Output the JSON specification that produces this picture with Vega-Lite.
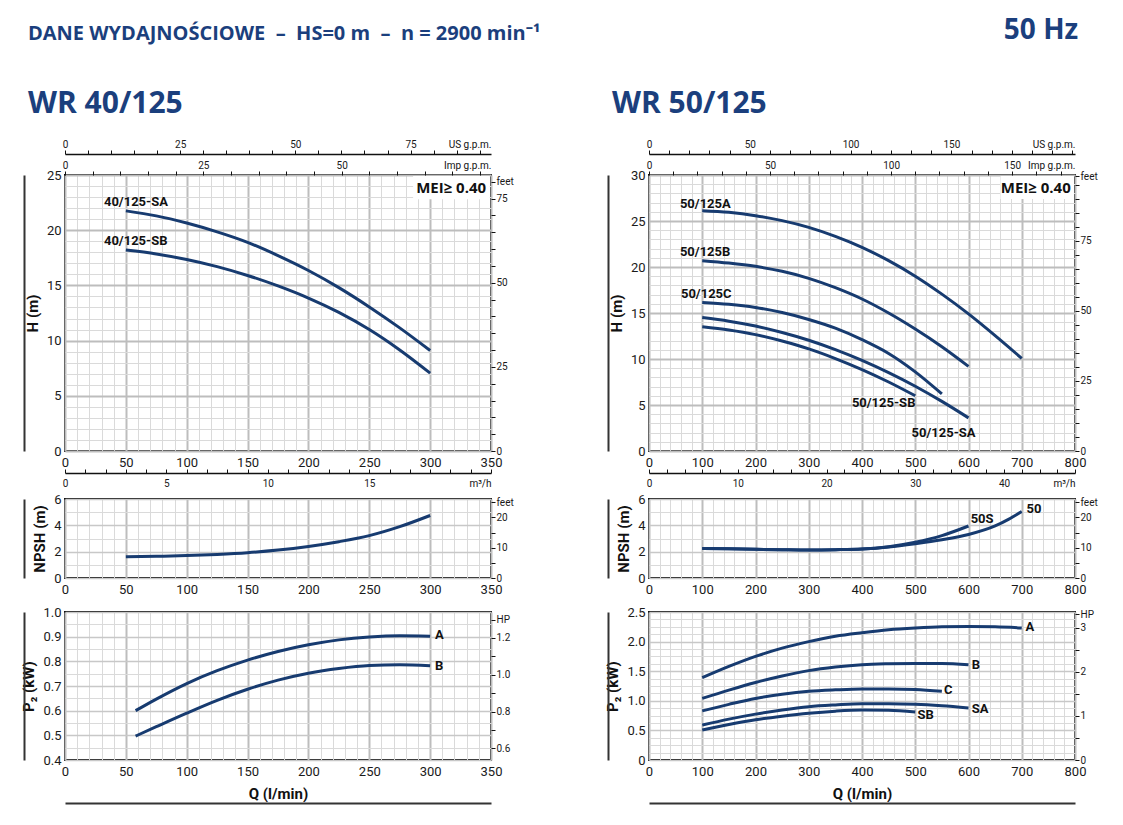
{
  "$schema": "https://vega.github.io/schema/vega-lite/v6.json",
  "autosize": {"type": "pad"},
  "padding": {"left": 20, "top": 17, "right": 5, "bottom": 5},
  "config": {
    "font": "Roboto, sans-serif",
    "view": {"stroke": "#111111", "strokeWidth": 2},
    "axis": {
      "labelFont": "Roboto, sans-serif",
      "titleFont": "Roboto, sans-serif",
      "labelColor": "#1a1a1a",
      "titleColor": "#111111",
      "labelFontSize": 13,
      "titleFontSize": 15,
      "titleFontWeight": "bold",
      "labelOverlap": false,
      "labelFlush": false,
      "labelBound": false,
      "domainColor": "#111111",
      "tickColor": "#111111",
      "grid": false
    },
    "text": {"font": "Roboto, sans-serif"},
    "title": {"font": "Open Sans", "fontWeight": "bold", "color": "#1b3f7d", "anchor": "start", "frame": "bounds"}
  },
  "title": {"text": "50 Hz", "anchor": "end", "fontSize": 28, "offset": -22, "dx": -20},
  "datasets": {
    "curves": [
      {"c": "H40", "s": "SA", "q": 50, "v": 21.75}, {"c": "H40", "s": "SA", "q": 75, "v": 21.3}, {"c": "H40", "s": "SA", "q": 100, "v": 20.65}, {"c": "H40", "s": "SA", "q": 125, "v": 19.85}, {"c": "H40", "s": "SA", "q": 150, "v": 18.9}, {"c": "H40", "s": "SA", "q": 175, "v": 17.7}, {"c": "H40", "s": "SA", "q": 200, "v": 16.35}, {"c": "H40", "s": "SA", "q": 225, "v": 14.8}, {"c": "H40", "s": "SA", "q": 250, "v": 13.05}, {"c": "H40", "s": "SA", "q": 275, "v": 11.15}, {"c": "H40", "s": "SA", "q": 300, "v": 9.1},
      {"c": "H40", "s": "SB", "q": 50, "v": 18.2}, {"c": "H40", "s": "SB", "q": 75, "v": 17.85}, {"c": "H40", "s": "SB", "q": 100, "v": 17.35}, {"c": "H40", "s": "SB", "q": 125, "v": 16.7}, {"c": "H40", "s": "SB", "q": 150, "v": 15.9}, {"c": "H40", "s": "SB", "q": 175, "v": 14.95}, {"c": "H40", "s": "SB", "q": 200, "v": 13.85}, {"c": "H40", "s": "SB", "q": 225, "v": 12.55}, {"c": "H40", "s": "SB", "q": 250, "v": 11.0}, {"c": "H40", "s": "SB", "q": 275, "v": 9.15}, {"c": "H40", "s": "SB", "q": 300, "v": 7.05},
      {"c": "N40", "s": "N", "q": 50, "v": 1.62}, {"c": "N40", "s": "N", "q": 75, "v": 1.65}, {"c": "N40", "s": "N", "q": 100, "v": 1.7}, {"c": "N40", "s": "N", "q": 125, "v": 1.79}, {"c": "N40", "s": "N", "q": 150, "v": 1.92}, {"c": "N40", "s": "N", "q": 175, "v": 2.12}, {"c": "N40", "s": "N", "q": 200, "v": 2.4}, {"c": "N40", "s": "N", "q": 225, "v": 2.76}, {"c": "N40", "s": "N", "q": 250, "v": 3.22}, {"c": "N40", "s": "N", "q": 275, "v": 3.9}, {"c": "N40", "s": "N", "q": 300, "v": 4.75},
      {"c": "P40", "s": "A", "q": 58, "v": 0.6}, {"c": "P40", "s": "A", "q": 75, "v": 0.647}, {"c": "P40", "s": "A", "q": 100, "v": 0.71}, {"c": "P40", "s": "A", "q": 125, "v": 0.762}, {"c": "P40", "s": "A", "q": 150, "v": 0.805}, {"c": "P40", "s": "A", "q": 175, "v": 0.84}, {"c": "P40", "s": "A", "q": 200, "v": 0.867}, {"c": "P40", "s": "A", "q": 225, "v": 0.887}, {"c": "P40", "s": "A", "q": 250, "v": 0.899}, {"c": "P40", "s": "A", "q": 275, "v": 0.904}, {"c": "P40", "s": "A", "q": 300, "v": 0.902},
      {"c": "P40", "s": "B", "q": 58, "v": 0.497}, {"c": "P40", "s": "B", "q": 75, "v": 0.535}, {"c": "P40", "s": "B", "q": 100, "v": 0.59}, {"c": "P40", "s": "B", "q": 125, "v": 0.642}, {"c": "P40", "s": "B", "q": 150, "v": 0.687}, {"c": "P40", "s": "B", "q": 175, "v": 0.724}, {"c": "P40", "s": "B", "q": 200, "v": 0.752}, {"c": "P40", "s": "B", "q": 225, "v": 0.771}, {"c": "P40", "s": "B", "q": 250, "v": 0.783}, {"c": "P40", "s": "B", "q": 275, "v": 0.786}, {"c": "P40", "s": "B", "q": 300, "v": 0.782},
      {"c": "H50", "s": "A", "q": 100, "v": 26.12}, {"c": "H50", "s": "A", "q": 150, "v": 25.94}, {"c": "H50", "s": "A", "q": 200, "v": 25.58}, {"c": "H50", "s": "A", "q": 250, "v": 25.04}, {"c": "H50", "s": "A", "q": 300, "v": 24.31}, {"c": "H50", "s": "A", "q": 350, "v": 23.33}, {"c": "H50", "s": "A", "q": 400, "v": 22.14}, {"c": "H50", "s": "A", "q": 450, "v": 20.69}, {"c": "H50", "s": "A", "q": 500, "v": 19.0}, {"c": "H50", "s": "A", "q": 550, "v": 17.05}, {"c": "H50", "s": "A", "q": 600, "v": 14.9}, {"c": "H50", "s": "A", "q": 650, "v": 12.54}, {"c": "H50", "s": "A", "q": 700, "v": 10.07},
      {"c": "H50", "s": "B", "q": 100, "v": 20.69}, {"c": "H50", "s": "B", "q": 150, "v": 20.43}, {"c": "H50", "s": "B", "q": 200, "v": 20.07}, {"c": "H50", "s": "B", "q": 250, "v": 19.53}, {"c": "H50", "s": "B", "q": 300, "v": 18.77}, {"c": "H50", "s": "B", "q": 350, "v": 17.75}, {"c": "H50", "s": "B", "q": 400, "v": 16.52}, {"c": "H50", "s": "B", "q": 450, "v": 15.0}, {"c": "H50", "s": "B", "q": 500, "v": 13.26}, {"c": "H50", "s": "B", "q": 550, "v": 11.34}, {"c": "H50", "s": "B", "q": 600, "v": 9.2},
      {"c": "H50", "s": "C", "q": 100, "v": 16.15}, {"c": "H50", "s": "C", "q": 150, "v": 15.95}, {"c": "H50", "s": "C", "q": 200, "v": 15.6}, {"c": "H50", "s": "C", "q": 250, "v": 15.05}, {"c": "H50", "s": "C", "q": 300, "v": 14.3}, {"c": "H50", "s": "C", "q": 350, "v": 13.35}, {"c": "H50", "s": "C", "q": 400, "v": 12.1}, {"c": "H50", "s": "C", "q": 450, "v": 10.6}, {"c": "H50", "s": "C", "q": 500, "v": 8.6}, {"c": "H50", "s": "C", "q": 550, "v": 6.2},
      {"c": "H50", "s": "SA", "q": 100, "v": 14.5}, {"c": "H50", "s": "SA", "q": 150, "v": 14.11}, {"c": "H50", "s": "SA", "q": 200, "v": 13.58}, {"c": "H50", "s": "SA", "q": 250, "v": 12.88}, {"c": "H50", "s": "SA", "q": 300, "v": 12.04}, {"c": "H50", "s": "SA", "q": 350, "v": 11.02}, {"c": "H50", "s": "SA", "q": 400, "v": 9.85}, {"c": "H50", "s": "SA", "q": 450, "v": 8.52}, {"c": "H50", "s": "SA", "q": 500, "v": 7.04}, {"c": "H50", "s": "SA", "q": 550, "v": 5.39}, {"c": "H50", "s": "SA", "q": 600, "v": 3.6},
      {"c": "H50", "s": "SB", "q": 100, "v": 13.5}, {"c": "H50", "s": "SB", "q": 150, "v": 13.15}, {"c": "H50", "s": "SB", "q": 200, "v": 12.65}, {"c": "H50", "s": "SB", "q": 250, "v": 11.95}, {"c": "H50", "s": "SB", "q": 300, "v": 11.1}, {"c": "H50", "s": "SB", "q": 350, "v": 10.05}, {"c": "H50", "s": "SB", "q": 400, "v": 8.85}, {"c": "H50", "s": "SB", "q": 450, "v": 7.5}, {"c": "H50", "s": "SB", "q": 500, "v": 6.0},
      {"c": "N50", "s": "50", "q": 100, "v": 2.25}, {"c": "N50", "s": "50", "q": 150, "v": 2.22}, {"c": "N50", "s": "50", "q": 200, "v": 2.18}, {"c": "N50", "s": "50", "q": 250, "v": 2.15}, {"c": "N50", "s": "50", "q": 300, "v": 2.13}, {"c": "N50", "s": "50", "q": 350, "v": 2.15}, {"c": "N50", "s": "50", "q": 400, "v": 2.2}, {"c": "N50", "s": "50", "q": 450, "v": 2.35}, {"c": "N50", "s": "50", "q": 500, "v": 2.6}, {"c": "N50", "s": "50", "q": 550, "v": 2.9}, {"c": "N50", "s": "50", "q": 600, "v": 3.3}, {"c": "N50", "s": "50", "q": 650, "v": 3.95}, {"c": "N50", "s": "50", "q": 675, "v": 4.45}, {"c": "N50", "s": "50", "q": 700, "v": 5.05},
      {"c": "N50", "s": "50S", "q": 100, "v": 2.25}, {"c": "N50", "s": "50S", "q": 150, "v": 2.22}, {"c": "N50", "s": "50S", "q": 200, "v": 2.18}, {"c": "N50", "s": "50S", "q": 250, "v": 2.15}, {"c": "N50", "s": "50S", "q": 300, "v": 2.13}, {"c": "N50", "s": "50S", "q": 350, "v": 2.15}, {"c": "N50", "s": "50S", "q": 400, "v": 2.2}, {"c": "N50", "s": "50S", "q": 450, "v": 2.38}, {"c": "N50", "s": "50S", "q": 500, "v": 2.72}, {"c": "N50", "s": "50S", "q": 550, "v": 3.22}, {"c": "N50", "s": "50S", "q": 600, "v": 3.95},
      {"c": "P50", "s": "A", "q": 100, "v": 1.39}, {"c": "P50", "s": "A", "q": 150, "v": 1.58}, {"c": "P50", "s": "A", "q": 200, "v": 1.75}, {"c": "P50", "s": "A", "q": 250, "v": 1.89}, {"c": "P50", "s": "A", "q": 300, "v": 2.0}, {"c": "P50", "s": "A", "q": 350, "v": 2.09}, {"c": "P50", "s": "A", "q": 400, "v": 2.15}, {"c": "P50", "s": "A", "q": 450, "v": 2.2}, {"c": "P50", "s": "A", "q": 500, "v": 2.23}, {"c": "P50", "s": "A", "q": 550, "v": 2.25}, {"c": "P50", "s": "A", "q": 600, "v": 2.255}, {"c": "P50", "s": "A", "q": 650, "v": 2.25}, {"c": "P50", "s": "A", "q": 700, "v": 2.23},
      {"c": "P50", "s": "B", "q": 100, "v": 1.04}, {"c": "P50", "s": "B", "q": 150, "v": 1.18}, {"c": "P50", "s": "B", "q": 200, "v": 1.31}, {"c": "P50", "s": "B", "q": 250, "v": 1.42}, {"c": "P50", "s": "B", "q": 300, "v": 1.51}, {"c": "P50", "s": "B", "q": 350, "v": 1.57}, {"c": "P50", "s": "B", "q": 400, "v": 1.61}, {"c": "P50", "s": "B", "q": 450, "v": 1.625}, {"c": "P50", "s": "B", "q": 500, "v": 1.63}, {"c": "P50", "s": "B", "q": 550, "v": 1.63}, {"c": "P50", "s": "B", "q": 600, "v": 1.61},
      {"c": "P50", "s": "C", "q": 100, "v": 0.83}, {"c": "P50", "s": "C", "q": 150, "v": 0.94}, {"c": "P50", "s": "C", "q": 200, "v": 1.04}, {"c": "P50", "s": "C", "q": 250, "v": 1.11}, {"c": "P50", "s": "C", "q": 300, "v": 1.16}, {"c": "P50", "s": "C", "q": 350, "v": 1.185}, {"c": "P50", "s": "C", "q": 400, "v": 1.2}, {"c": "P50", "s": "C", "q": 450, "v": 1.2}, {"c": "P50", "s": "C", "q": 500, "v": 1.19}, {"c": "P50", "s": "C", "q": 550, "v": 1.16},
      {"c": "P50", "s": "SA", "q": 100, "v": 0.59}, {"c": "P50", "s": "SA", "q": 150, "v": 0.69}, {"c": "P50", "s": "SA", "q": 200, "v": 0.775}, {"c": "P50", "s": "SA", "q": 250, "v": 0.845}, {"c": "P50", "s": "SA", "q": 300, "v": 0.9}, {"c": "P50", "s": "SA", "q": 350, "v": 0.93}, {"c": "P50", "s": "SA", "q": 400, "v": 0.95}, {"c": "P50", "s": "SA", "q": 450, "v": 0.95}, {"c": "P50", "s": "SA", "q": 500, "v": 0.94}, {"c": "P50", "s": "SA", "q": 550, "v": 0.915}, {"c": "P50", "s": "SA", "q": 600, "v": 0.88},
      {"c": "P50", "s": "SB", "q": 100, "v": 0.506}, {"c": "P50", "s": "SB", "q": 150, "v": 0.6}, {"c": "P50", "s": "SB", "q": 200, "v": 0.68}, {"c": "P50", "s": "SB", "q": 250, "v": 0.74}, {"c": "P50", "s": "SB", "q": 300, "v": 0.79}, {"c": "P50", "s": "SB", "q": 350, "v": 0.825}, {"c": "P50", "s": "SB", "q": 400, "v": 0.843}, {"c": "P50", "s": "SB", "q": 450, "v": 0.84}, {"c": "P50", "s": "SB", "q": 500, "v": 0.81}
    ],
    "labels": [
      {"c": "H40", "t": "40/125-SA", "q": 32, "v": 22.55},
      {"c": "H40", "t": "40/125-SB", "q": 32, "v": 19.05},
      {"c": "P40", "t": "A", "q": 304, "v": 0.905},
      {"c": "P40", "t": "B", "q": 304, "v": 0.781},
      {"c": "H50", "t": "50/125A", "q": 58, "v": 26.9},
      {"c": "H50", "t": "50/125B", "q": 58, "v": 21.6},
      {"c": "H50", "t": "50/125C", "q": 60, "v": 17.1},
      {"c": "H50", "t": "50/125-SB", "q": 381, "v": 5.2},
      {"c": "H50", "t": "50/125-SA", "q": 493, "v": 2.0},
      {"c": "N50", "t": "50S", "q": 604, "v": 4.5},
      {"c": "N50", "t": "50", "q": 709, "v": 5.24},
      {"c": "P50", "t": "A", "q": 707, "v": 2.24},
      {"c": "P50", "t": "B", "q": 606, "v": 1.607},
      {"c": "P50", "t": "C", "q": 554, "v": 1.185},
      {"c": "P50", "t": "SA", "q": 606, "v": 0.86},
      {"c": "P50", "t": "SB", "q": 504, "v": 0.764}
    ]
  },
  "columns": 2,
  "align": "each",
  "spacing": {"row": 3, "column": 62},
  "concat": [
    {
      "title": {"text": "DANE WYDAJNOŚCIOWE\u00a0\u00a0–\u00a0\u00a0HS=0 m\u00a0\u00a0–\u00a0\u00a0n = 2900 min⁻¹", "subtitle": "WR 40/125", "fontSize": 20,
        "subtitleFont": "Open Sans", "subtitleFontSize": 30, "subtitleFontWeight": "bold", "subtitleColor": "#1b3f7d",
        "subtitlePadding": 45, "offset": 20, "dx": 4},
      "width": 426,
      "height": 276,
      "resolve": {"scale": {"x": "independent", "y": "independent"}},
      "layer": [
        {
          "data": {"name": "curves"},
          "transform": [{"filter": "datum.c === 'H40'"}],
          "mark": {"type": "line", "interpolate": "monotone", "strokeWidth": 3, "color": "#173b70"},
          "encoding": {
            "x": {"field": "q", "type": "quantitative", "scale": {"domain": [0, 350], "nice": false},
              "axis": {"values": [0,10,20,30,40,50,60,70,80,90,100,110,120,130,140,150,160,170,180,190,200,210,220,230,240,250,260,270,280,290,300,310,320,330,340,350],
                "labelExpr": "datum.value % 50 === 0 ? datum.label : ''", "grid": true,
                "gridColor": {"condition": {"test": "datum.value % 50 === 0", "value": "#bdbdbd"}, "value": "#dadada"},
                "gridWidth": {"condition": {"test": "datum.value % 50 === 0", "value": 2}, "value": 1},
                "ticks": false, "domain": false, "labelPadding": 5, "title": null}},
            "y": {"field": "v", "type": "quantitative", "scale": {"domain": [0, 25], "nice": false},
              "axis": {"values": [0,1,2,3,4,5,6,7,8,9,10,11,12,13,14,15,16,17,18,19,20,21,22,23,24,25],
                "labelExpr": "datum.value % 5 === 0 ? datum.label : ''", "grid": true,
                "gridColor": {"condition": {"test": "datum.value % 5 === 0", "value": "#bdbdbd"}, "value": "#dadada"},
                "gridWidth": {"condition": {"test": "datum.value % 5 === 0", "value": 2}, "value": 1},
                "ticks": false, "domain": false, "labelPadding": 4, "title": "H (m)", "titlePadding": 6}},
            "detail": {"field": "s"}
          }
        },
        {
          "data": {"name": "labels"},
          "transform": [{"filter": "datum.c === 'H40'"}],
          "mark": {"type": "text", "align": "left", "baseline": "middle", "fontSize": 13, "fontWeight": "bold", "color": "#111111"},
          "encoding": {
            "x": {"field": "q", "type": "quantitative", "scale": {"domain": [0, 350], "nice": false}, "axis": null},
            "y": {"field": "v", "type": "quantitative", "scale": {"domain": [0, 25], "nice": false}, "axis": null},
            "text": {"field": "t"}
          }
        },
        {
          "data": {"values": [{"t": "MEI≥ 0.40"}]},
          "mark": {"type": "rect", "fill": "#ffffff"},
          "encoding": {
            "x": {"datum": 286, "type": "quantitative", "scale": {"domain": [0, 350], "nice": false}, "axis": null},
            "x2": {"datum": 349},
            "y": {"datum": 22.8, "type": "quantitative", "scale": {"domain": [0, 25], "nice": false}, "axis": null},
            "y2": {"datum": 24.9}
          }
        },
        {
          "data": {"values": [{"t": "MEI≥ 0.40"}]},
          "mark": {"type": "text", "align": "right", "baseline": "middle", "font": "Open Sans", "fontSize": 15, "fontWeight": "bold", "color": "#111111"},
          "encoding": {
            "x": {"datum": 346, "type": "quantitative", "scale": {"domain": [0, 350], "nice": false}, "axis": null},
            "y": {"datum": 23.85, "type": "quantitative", "scale": {"domain": [0, 25], "nice": false}, "axis": null},
            "text": {"field": "t"}
          }
        },
        {
          "data": {"values": [{}]},
          "mark": {"type": "point", "opacity": 0},
          "encoding": {
            "x": {"datum": 0, "type": "quantitative", "scale": {"domain": [0, 92.46], "nice": false},
              "axis": {"orient": "top", "offset": 21, "values": [0,5,10,15,20,25,30,35,40,45,50,55,60,65,70,75,80,85,90],
                "labelExpr": "datum.value % 25 === 0 ? datum.label : ''", "tickSize": 4, "labelPadding": 1, "labelFontSize": 10,
                "domain": true, "domainWidth": 1.5, "title": "US g.p.m.", "titleAnchor": "end", "titleAlign": "right",
                "titleBaseline": "bottom", "titleY": -5, "titleFontSize": 10, "titleFontWeight": "normal"}},
            "y": {"datum": 0, "type": "quantitative", "scale": {"domain": [0, 1], "nice": false}, "axis": null}
          }
        },
        {
          "data": {"values": [{}]},
          "mark": {"type": "point", "opacity": 0},
          "encoding": {
            "x": {"datum": 0, "type": "quantitative", "scale": {"domain": [0, 76.99], "nice": false},
              "axis": {"orient": "top", "offset": 0, "values": [0,5,10,15,20,25,30,35,40,45,50,55,60,65,70,75],
                "labelExpr": "datum.value % 25 === 0 && datum.value <= 50 ? datum.label : ''", "tickSize": 4, "labelPadding": 1, "labelFontSize": 10,
                "domain": false, "title": "Imp g.p.m.", "titleAnchor": "end", "titleAlign": "right",
                "titleBaseline": "bottom", "titleY": -5, "titleFontSize": 10, "titleFontWeight": "normal"}},
            "y": {"datum": 0, "type": "quantitative", "scale": {"domain": [0, 1], "nice": false}, "axis": null}
          }
        },
        {
          "data": {"values": [{}]},
          "mark": {"type": "point", "opacity": 0},
          "encoding": {
            "x": {"datum": 0, "type": "quantitative", "scale": {"domain": [0, 21], "nice": false},
              "axis": {"orient": "bottom", "offset": 22, "values": [0,1,2,3,4,5,6,7,8,9,10,11,12,13,14,15,16,17,18,19,20,21],
                "labelExpr": "datum.value % 5 === 0 && datum.value <= 15 ? datum.label : ''", "tickSize": -4, "labelPadding": 9, "labelFontSize": 10,
                "domain": true, "domainWidth": 1.5, "title": "m³/h", "titleAnchor": "end", "titleAlign": "right",
                "titleBaseline": "top", "titleY": 5, "titleFontSize": 10, "titleFontWeight": "normal"}},
            "y": {"datum": 0, "type": "quantitative", "scale": {"domain": [0, 1], "nice": false}, "axis": null}
          }
        },
        {
          "data": {"values": [{}]},
          "mark": {"type": "point", "opacity": 0},
          "encoding": {
            "x": {"datum": 0, "type": "quantitative", "scale": {"domain": [0, 1], "nice": false}, "axis": null},
            "y": {"datum": 0, "type": "quantitative", "scale": {"domain": [0, 82.02], "nice": false},
              "axis": {"orient": "right", "values": [0,5,10,15,20,25,30,35,40,45,50,55,60,65,70,75,80],
                "labelExpr": "datum.value === 80 ? 'feet' : (datum.value % 25 === 0 ? datum.label : '')",
                "tickSize": 4, "labelPadding": 1, "labelFontSize": 10, "domain": false, "title": null}}
          }
        },
        {
          "data": {"values": [{}]},
          "mark": {"type": "point", "opacity": 0},
          "encoding": {
            "x": {"datum": 0, "type": "quantitative", "scale": {"domain": [0, 1], "nice": false}, "axis": null},
            "y": {"datum": 0, "type": "quantitative", "scale": {"domain": [0, 1], "nice": false},
              "axis": {"orient": "left", "offset": 41, "domain": true, "domainWidth": 2, "domainColor": "#333333",
                "labels": false, "ticks": false, "title": null}}
          }
        }
      ]
    },
    {
      "title": {"text": "WR 50/125", "fontSize": 30, "offset": 20, "dx": 4},
      "width": 426,
      "height": 276,
      "resolve": {"scale": {"x": "independent", "y": "independent"}},
      "layer": [
        {
          "data": {"name": "curves"},
          "transform": [{"filter": "datum.c === 'H50'"}],
          "mark": {"type": "line", "interpolate": "monotone", "strokeWidth": 3, "color": "#173b70"},
          "encoding": {
            "x": {"field": "q", "type": "quantitative", "scale": {"domain": [0, 800], "nice": false},
              "axis": {"values": [0,20,40,60,80,100,120,140,160,180,200,220,240,260,280,300,320,340,360,380,400,420,440,460,480,500,520,540,560,580,600,620,640,660,680,700,720,740,760,780,800],
                "labelExpr": "datum.value % 100 === 0 ? datum.label : ''", "grid": true,
                "gridColor": {"condition": {"test": "datum.value % 100 === 0", "value": "#bdbdbd"}, "value": "#dadada"},
                "gridWidth": {"condition": {"test": "datum.value % 100 === 0", "value": 2}, "value": 1},
                "ticks": false, "domain": false, "labelPadding": 5, "title": null}},
            "y": {"field": "v", "type": "quantitative", "scale": {"domain": [0, 30], "nice": false},
              "axis": {"values": [0,1,2,3,4,5,6,7,8,9,10,11,12,13,14,15,16,17,18,19,20,21,22,23,24,25,26,27,28,29,30],
                "labelExpr": "datum.value % 5 === 0 ? datum.label : ''", "grid": true,
                "gridColor": {"condition": {"test": "datum.value % 5 === 0", "value": "#bdbdbd"}, "value": "#dadada"},
                "gridWidth": {"condition": {"test": "datum.value % 5 === 0", "value": 2}, "value": 1},
                "ticks": false, "domain": false, "labelPadding": 4, "title": "H (m)", "titlePadding": 6}},
            "detail": {"field": "s"}
          }
        },
        {
          "data": {"name": "labels"},
          "transform": [{"filter": "datum.c === 'H50'"}],
          "mark": {"type": "text", "align": "left", "baseline": "middle", "fontSize": 13, "fontWeight": "bold", "color": "#111111"},
          "encoding": {
            "x": {"field": "q", "type": "quantitative", "scale": {"domain": [0, 800], "nice": false}, "axis": null},
            "y": {"field": "v", "type": "quantitative", "scale": {"domain": [0, 30], "nice": false}, "axis": null},
            "text": {"field": "t"}
          }
        },
        {
          "data": {"values": [{"t": "MEI≥ 0.40"}]},
          "mark": {"type": "rect", "fill": "#ffffff"},
          "encoding": {
            "x": {"datum": 660, "type": "quantitative", "scale": {"domain": [0, 800], "nice": false}, "axis": null},
            "x2": {"datum": 798},
            "y": {"datum": 27.4, "type": "quantitative", "scale": {"domain": [0, 30], "nice": false}, "axis": null},
            "y2": {"datum": 29.9}
          }
        },
        {
          "data": {"values": [{"t": "MEI≥ 0.40"}]},
          "mark": {"type": "text", "align": "right", "baseline": "middle", "font": "Open Sans", "fontSize": 15, "fontWeight": "bold", "color": "#111111"},
          "encoding": {
            "x": {"datum": 792, "type": "quantitative", "scale": {"domain": [0, 800], "nice": false}, "axis": null},
            "y": {"datum": 28.6, "type": "quantitative", "scale": {"domain": [0, 30], "nice": false}, "axis": null},
            "text": {"field": "t"}
          }
        },
        {
          "data": {"values": [{}]},
          "mark": {"type": "point", "opacity": 0},
          "encoding": {
            "x": {"datum": 0, "type": "quantitative", "scale": {"domain": [0, 211.34], "nice": false},
              "axis": {"orient": "top", "offset": 21, "values": [0,10,20,30,40,50,60,70,80,90,100,110,120,130,140,150,160,170,180,190,200,210],
                "labelExpr": "datum.value % 50 === 0 && datum.value <= 150 ? datum.label : ''", "tickSize": 4, "labelPadding": 1, "labelFontSize": 10,
                "domain": true, "domainWidth": 1.5, "title": "US g.p.m.", "titleAnchor": "end", "titleAlign": "right",
                "titleBaseline": "bottom", "titleY": -5, "titleFontSize": 10, "titleFontWeight": "normal"}},
            "y": {"datum": 0, "type": "quantitative", "scale": {"domain": [0, 1], "nice": false}, "axis": null}
          }
        },
        {
          "data": {"values": [{}]},
          "mark": {"type": "point", "opacity": 0},
          "encoding": {
            "x": {"datum": 0, "type": "quantitative", "scale": {"domain": [0, 175.98], "nice": false},
              "axis": {"orient": "top", "offset": 0, "values": [0,10,20,30,40,50,60,70,80,90,100,110,120,130,140,150,160,170],
                "labelExpr": "datum.value % 50 === 0 ? datum.label : ''", "tickSize": 4, "labelPadding": 1, "labelFontSize": 10,
                "domain": false, "title": "Imp g.p.m.", "titleAnchor": "end", "titleAlign": "right",
                "titleBaseline": "bottom", "titleY": -5, "titleFontSize": 10, "titleFontWeight": "normal"}},
            "y": {"datum": 0, "type": "quantitative", "scale": {"domain": [0, 1], "nice": false}, "axis": null}
          }
        },
        {
          "data": {"values": [{}]},
          "mark": {"type": "point", "opacity": 0},
          "encoding": {
            "x": {"datum": 0, "type": "quantitative", "scale": {"domain": [0, 48], "nice": false},
              "axis": {"orient": "bottom", "offset": 22, "values": [0,2,4,6,8,10,12,14,16,18,20,22,24,26,28,30,32,34,36,38,40,42,44,46,48],
                "labelExpr": "datum.value % 10 === 0 ? datum.label : ''", "tickSize": -4, "labelPadding": 9, "labelFontSize": 10,
                "domain": true, "domainWidth": 1.5, "title": "m³/h", "titleAnchor": "end", "titleAlign": "right",
                "titleBaseline": "top", "titleY": 5, "titleFontSize": 10, "titleFontWeight": "normal"}},
            "y": {"datum": 0, "type": "quantitative", "scale": {"domain": [0, 1], "nice": false}, "axis": null}
          }
        },
        {
          "data": {"values": [{}]},
          "mark": {"type": "point", "opacity": 0},
          "encoding": {
            "x": {"datum": 0, "type": "quantitative", "scale": {"domain": [0, 1], "nice": false}, "axis": null},
            "y": {"datum": 0, "type": "quantitative", "scale": {"domain": [0, 98.43], "nice": false},
              "axis": {"orient": "right", "values": [0,5,10,15,20,25,30,35,40,45,50,55,60,65,70,75,80,85,90,95,98],
                "labelExpr": "datum.value === 98 ? 'feet' : (datum.value % 25 === 0 ? datum.label : '')",
                "tickSize": 4, "labelPadding": 1, "labelFontSize": 10, "domain": false, "title": null}}
          }
        },
        {
          "data": {"values": [{}]},
          "mark": {"type": "point", "opacity": 0},
          "encoding": {
            "x": {"datum": 0, "type": "quantitative", "scale": {"domain": [0, 1], "nice": false}, "axis": null},
            "y": {"datum": 0, "type": "quantitative", "scale": {"domain": [0, 1], "nice": false},
              "axis": {"orient": "left", "offset": 41, "domain": true, "domainWidth": 2, "domainColor": "#333333",
                "labels": false, "ticks": false, "title": null}}
          }
        }
      ]
    },
    {
      "width": 426,
      "height": 79,
      "resolve": {"scale": {"x": "independent", "y": "independent"}},
      "layer": [
        {
          "data": {"name": "curves"},
          "transform": [{"filter": "datum.c === 'N40'"}],
          "mark": {"type": "line", "interpolate": "monotone", "strokeWidth": 3, "color": "#173b70"},
          "encoding": {
            "x": {"field": "q", "type": "quantitative", "scale": {"domain": [0, 350], "nice": false},
              "axis": {"values": [0,10,20,30,40,50,60,70,80,90,100,110,120,130,140,150,160,170,180,190,200,210,220,230,240,250,260,270,280,290,300,310,320,330,340,350],
                "labelExpr": "datum.value % 50 === 0 ? datum.label : ''", "grid": true,
                "gridColor": {"condition": {"test": "datum.value % 50 === 0", "value": "#bdbdbd"}, "value": "#dadada"},
                "gridWidth": {"condition": {"test": "datum.value % 50 === 0", "value": 2}, "value": 1},
                "ticks": false, "domain": false, "labelPadding": 5, "title": " ", "titleFontSize": 4, "titlePadding": 1}},
            "y": {"field": "v", "type": "quantitative", "scale": {"domain": [0, 6], "nice": false},
              "axis": {"values": [0,1,2,3,4,5,6],
                "labelExpr": "datum.value % 2 === 0 ? datum.label : ''", "grid": true,
                "gridColor": {"condition": {"test": "datum.value % 2 === 0", "value": "#c8c8c8"}, "value": "#dadada"},
                "gridWidth": {"condition": {"test": "datum.value % 2 === 0", "value": 1.5}, "value": 1},
                "ticks": false, "domain": false, "labelPadding": 4, "title": "NPSH (m)", "titlePadding": 6}},
            "detail": {"field": "s"}
          }
        },
        {
          "data": {"values": [{}]},
          "mark": {"type": "point", "opacity": 0},
          "encoding": {
            "x": {"datum": 0, "type": "quantitative", "scale": {"domain": [0, 1], "nice": false}, "axis": null},
            "y": {"datum": 0, "type": "quantitative", "scale": {"domain": [0, 26.1], "nice": false},
              "axis": {"orient": "right", "values": [0,5,10,15,20,25],
                "labelExpr": "datum.value === 25 ? 'feet' : (datum.value % 10 === 0 ? datum.label : '')",
                "tickSize": 4, "labelPadding": 1, "labelFontSize": 10, "domain": false, "title": null}}
          }
        },
        {
          "data": {"values": [{}]},
          "mark": {"type": "point", "opacity": 0},
          "encoding": {
            "x": {"datum": 0, "type": "quantitative", "scale": {"domain": [0, 1], "nice": false}, "axis": null},
            "y": {"datum": 0, "type": "quantitative", "scale": {"domain": [0, 1], "nice": false},
              "axis": {"orient": "left", "offset": 41, "domain": true, "domainWidth": 2, "domainColor": "#333333",
                "labels": false, "ticks": false, "title": null}}
          }
        }
      ]
    },
    {
      "width": 426,
      "height": 79,
      "resolve": {"scale": {"x": "independent", "y": "independent"}},
      "layer": [
        {
          "data": {"name": "curves"},
          "transform": [{"filter": "datum.c === 'N50'"}],
          "mark": {"type": "line", "interpolate": "monotone", "strokeWidth": 3, "color": "#173b70"},
          "encoding": {
            "x": {"field": "q", "type": "quantitative", "scale": {"domain": [0, 800], "nice": false},
              "axis": {"values": [0,20,40,60,80,100,120,140,160,180,200,220,240,260,280,300,320,340,360,380,400,420,440,460,480,500,520,540,560,580,600,620,640,660,680,700,720,740,760,780,800],
                "labelExpr": "datum.value % 100 === 0 ? datum.label : ''", "grid": true,
                "gridColor": {"condition": {"test": "datum.value % 100 === 0", "value": "#bdbdbd"}, "value": "#dadada"},
                "gridWidth": {"condition": {"test": "datum.value % 100 === 0", "value": 2}, "value": 1},
                "ticks": false, "domain": false, "labelPadding": 5, "title": " ", "titleFontSize": 4, "titlePadding": 1}},
            "y": {"field": "v", "type": "quantitative", "scale": {"domain": [0, 6], "nice": false},
              "axis": {"values": [0,1,2,3,4,5,6],
                "labelExpr": "datum.value % 2 === 0 ? datum.label : ''", "grid": true,
                "gridColor": {"condition": {"test": "datum.value % 2 === 0", "value": "#c8c8c8"}, "value": "#dadada"},
                "gridWidth": {"condition": {"test": "datum.value % 2 === 0", "value": 1.5}, "value": 1},
                "ticks": false, "domain": false, "labelPadding": 4, "title": "NPSH (m)", "titlePadding": 6}},
            "detail": {"field": "s"}
          }
        },
        {
          "data": {"name": "labels"},
          "transform": [{"filter": "datum.c === 'N50'"}],
          "mark": {"type": "text", "align": "left", "baseline": "middle", "fontSize": 13, "fontWeight": "bold", "color": "#111111"},
          "encoding": {
            "x": {"field": "q", "type": "quantitative", "scale": {"domain": [0, 800], "nice": false}, "axis": null},
            "y": {"field": "v", "type": "quantitative", "scale": {"domain": [0, 6], "nice": false}, "axis": null},
            "text": {"field": "t"}
          }
        },
        {
          "data": {"values": [{}]},
          "mark": {"type": "point", "opacity": 0},
          "encoding": {
            "x": {"datum": 0, "type": "quantitative", "scale": {"domain": [0, 1], "nice": false}, "axis": null},
            "y": {"datum": 0, "type": "quantitative", "scale": {"domain": [0, 26.1], "nice": false},
              "axis": {"orient": "right", "values": [0,5,10,15,20,25],
                "labelExpr": "datum.value === 25 ? 'feet' : (datum.value % 10 === 0 ? datum.label : '')",
                "tickSize": 4, "labelPadding": 1, "labelFontSize": 10, "domain": false, "title": null}}
          }
        },
        {
          "data": {"values": [{}]},
          "mark": {"type": "point", "opacity": 0},
          "encoding": {
            "x": {"datum": 0, "type": "quantitative", "scale": {"domain": [0, 1], "nice": false}, "axis": null},
            "y": {"datum": 0, "type": "quantitative", "scale": {"domain": [0, 1], "nice": false},
              "axis": {"orient": "left", "offset": 41, "domain": true, "domainWidth": 2, "domainColor": "#333333",
                "labels": false, "ticks": false, "title": null}}
          }
        }
      ]
    },
    {
      "width": 426,
      "height": 148,
      "resolve": {"scale": {"x": "independent", "y": "independent"}},
      "layer": [
        {
          "data": {"name": "curves"},
          "transform": [{"filter": "datum.c === 'P40'"}],
          "mark": {"type": "line", "interpolate": "monotone", "strokeWidth": 3, "color": "#173b70"},
          "encoding": {
            "x": {"field": "q", "type": "quantitative", "scale": {"domain": [0, 350], "nice": false},
              "axis": {"values": [0,10,20,30,40,50,60,70,80,90,100,110,120,130,140,150,160,170,180,190,200,210,220,230,240,250,260,270,280,290,300,310,320,330,340,350],
                "labelExpr": "datum.value % 50 === 0 ? datum.label : ''", "grid": true,
                "gridColor": {"condition": {"test": "datum.value % 50 === 0", "value": "#bdbdbd"}, "value": "#dadada"},
                "gridWidth": {"condition": {"test": "datum.value % 50 === 0", "value": 2}, "value": 1},
                "ticks": false, "domain": false, "labelPadding": 5, "title": "Q (l/min)", "titlePadding": 8}},
            "y": {"field": "v", "type": "quantitative", "scale": {"domain": [0.4, 1.0], "nice": false, "zero": false},
              "axis": {"values": [0.4,0.45,0.5,0.55,0.6,0.65,0.7,0.75,0.8,0.85,0.9,0.95,1.0],
                "labelExpr": "abs(datum.value * 10 - round(datum.value * 10)) < 0.001 ? format(datum.value, '.1f') : ''", "grid": true,
                "gridColor": {"condition": {"test": "abs(datum.value * 10 - round(datum.value * 10)) < 0.001", "value": "#c8c8c8"}, "value": "#dadada"},
                "gridWidth": {"condition": {"test": "abs(datum.value * 10 - round(datum.value * 10)) < 0.001", "value": 1.5}, "value": 1},
                "ticks": false, "domain": false, "labelPadding": 4, "title": "P₂ (kW)", "titlePadding": 6}},
            "detail": {"field": "s"}
          }
        },
        {
          "data": {"name": "labels"},
          "transform": [{"filter": "datum.c === 'P40'"}],
          "mark": {"type": "text", "align": "left", "baseline": "middle", "fontSize": 13, "fontWeight": "bold", "color": "#111111"},
          "encoding": {
            "x": {"field": "q", "type": "quantitative", "scale": {"domain": [0, 350], "nice": false}, "axis": null},
            "y": {"field": "v", "type": "quantitative", "scale": {"domain": [0.4, 1.0], "nice": false, "zero": false}, "axis": null},
            "text": {"field": "t"}
          }
        },
        {
          "data": {"values": [{}]},
          "mark": {"type": "point", "opacity": 0},
          "encoding": {
            "x": {"datum": 0, "type": "quantitative", "scale": {"domain": [0, 1], "nice": false}, "axis": null},
            "y": {"datum": 0.6, "type": "quantitative", "scale": {"domain": [0.5364, 1.341], "nice": false, "zero": false},
              "axis": {"orient": "right", "values": [0.6,0.7,0.8,0.9,1.0,1.1,1.2,1.3],
                "labelExpr": "datum.value === 1.3 ? 'HP' : (abs(datum.value * 5 - round(datum.value * 5)) < 0.001 ? format(datum.value, '.1f') : '')",
                "tickSize": 4, "labelPadding": 1, "labelFontSize": 10, "domain": false, "title": null}}
          }
        },
        {
          "data": {"values": [{}]},
          "mark": {"type": "point", "opacity": 0},
          "encoding": {
            "x": {"datum": 0, "type": "quantitative", "scale": {"domain": [0, 1], "nice": false}, "axis": null},
            "y": {"datum": 0, "type": "quantitative", "scale": {"domain": [0, 1], "nice": false},
              "axis": {"orient": "left", "offset": 41, "domain": true, "domainWidth": 2, "domainColor": "#333333",
                "labels": false, "ticks": false, "title": null}}
          }
        },
        {
          "data": {"values": [{}]},
          "mark": {"type": "point", "opacity": 0},
          "encoding": {
            "x": {"datum": 0, "type": "quantitative", "scale": {"domain": [0, 1], "nice": false},
              "axis": {"orient": "bottom", "offset": 43, "domain": true, "domainWidth": 2, "domainColor": "#333333",
                "labels": false, "ticks": false, "title": null}},
            "y": {"datum": 0, "type": "quantitative", "scale": {"domain": [0, 1], "nice": false}, "axis": null}
          }
        }
      ]
    },
    {
      "width": 426,
      "height": 148,
      "resolve": {"scale": {"x": "independent", "y": "independent"}},
      "layer": [
        {
          "data": {"name": "curves"},
          "transform": [{"filter": "datum.c === 'P50'"}],
          "mark": {"type": "line", "interpolate": "monotone", "strokeWidth": 3, "color": "#173b70"},
          "encoding": {
            "x": {"field": "q", "type": "quantitative", "scale": {"domain": [0, 800], "nice": false},
              "axis": {"values": [0,20,40,60,80,100,120,140,160,180,200,220,240,260,280,300,320,340,360,380,400,420,440,460,480,500,520,540,560,580,600,620,640,660,680,700,720,740,760,780,800],
                "labelExpr": "datum.value % 100 === 0 ? datum.label : ''", "grid": true,
                "gridColor": {"condition": {"test": "datum.value % 100 === 0", "value": "#bdbdbd"}, "value": "#dadada"},
                "gridWidth": {"condition": {"test": "datum.value % 100 === 0", "value": 2}, "value": 1},
                "ticks": false, "domain": false, "labelPadding": 5, "title": "Q (l/min)", "titlePadding": 8}},
            "y": {"field": "v", "type": "quantitative", "scale": {"domain": [0, 2.5], "nice": false},
              "axis": {"values": [0,0.125,0.25,0.375,0.5,0.625,0.75,0.875,1,1.125,1.25,1.375,1.5,1.625,1.75,1.875,2,2.125,2.25,2.375,2.5],
                "labelExpr": "datum.value % 0.5 === 0 ? (datum.value === 0 ? '0' : format(datum.value, '.1f')) : ''", "grid": true,
                "gridColor": {"condition": {"test": "datum.value % 0.5 === 0", "value": "#c8c8c8"}, "value": "#dadada"},
                "gridWidth": {"condition": {"test": "datum.value % 0.5 === 0", "value": 1.5}, "value": 1},
                "ticks": false, "domain": false, "labelPadding": 4, "title": "P₂ (kW)", "titlePadding": 6}},
            "detail": {"field": "s"}
          }
        },
        {
          "data": {"name": "labels"},
          "transform": [{"filter": "datum.c === 'P50'"}],
          "mark": {"type": "text", "align": "left", "baseline": "middle", "fontSize": 13, "fontWeight": "bold", "color": "#111111"},
          "encoding": {
            "x": {"field": "q", "type": "quantitative", "scale": {"domain": [0, 800], "nice": false}, "axis": null},
            "y": {"field": "v", "type": "quantitative", "scale": {"domain": [0, 2.5], "nice": false}, "axis": null},
            "text": {"field": "t"}
          }
        },
        {
          "data": {"values": [{}]},
          "mark": {"type": "point", "opacity": 0},
          "encoding": {
            "x": {"datum": 0, "type": "quantitative", "scale": {"domain": [0, 1], "nice": false}, "axis": null},
            "y": {"datum": 0, "type": "quantitative", "scale": {"domain": [0, 3.3526], "nice": false},
              "axis": {"orient": "right", "values": [0,0.5,1,1.5,2,2.5,3,3.3],
                "labelExpr": "datum.value === 3.3 ? 'HP' : (datum.value % 1 === 0 ? format(datum.value, 'd') : '')",
                "tickSize": 4, "labelPadding": 1, "labelFontSize": 10, "domain": false, "title": null}}
          }
        },
        {
          "data": {"values": [{}]},
          "mark": {"type": "point", "opacity": 0},
          "encoding": {
            "x": {"datum": 0, "type": "quantitative", "scale": {"domain": [0, 1], "nice": false}, "axis": null},
            "y": {"datum": 0, "type": "quantitative", "scale": {"domain": [0, 1], "nice": false},
              "axis": {"orient": "left", "offset": 41, "domain": true, "domainWidth": 2, "domainColor": "#333333",
                "labels": false, "ticks": false, "title": null}}
          }
        },
        {
          "data": {"values": [{}]},
          "mark": {"type": "point", "opacity": 0},
          "encoding": {
            "x": {"datum": 0, "type": "quantitative", "scale": {"domain": [0, 1], "nice": false},
              "axis": {"orient": "bottom", "offset": 43, "domain": true, "domainWidth": 2, "domainColor": "#333333",
                "labels": false, "ticks": false, "title": null}},
            "y": {"datum": 0, "type": "quantitative", "scale": {"domain": [0, 1], "nice": false}, "axis": null}
          }
        }
      ]
    }
  ]
}
